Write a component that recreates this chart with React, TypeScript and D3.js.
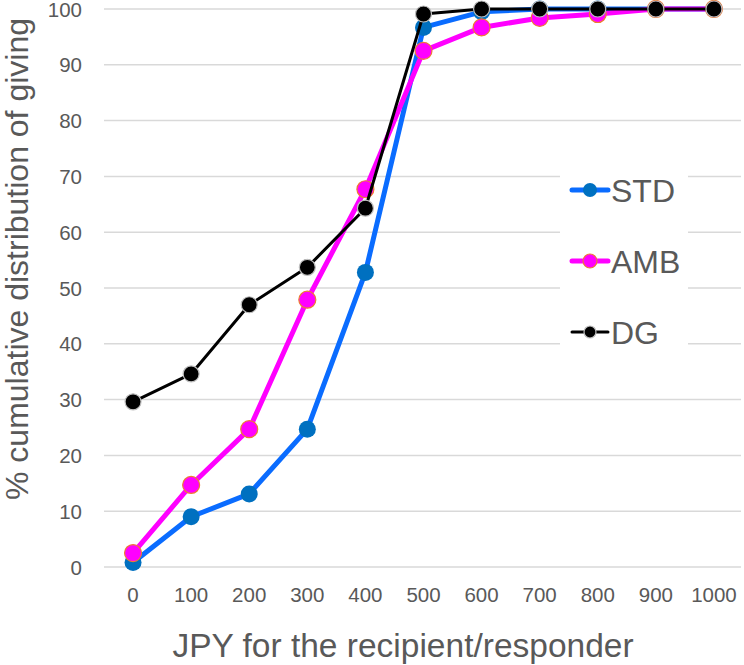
import * as d3 from 'd3'
import React, { useEffect, useRef } from 'react'

const categories = ['0', '100', '200', '300', '400', '500', '600', '700', '800', '900', '1000']
const stdValues = [0.8, 9, 13.1, 24.7, 52.8, 96.7, 99.5, 100, 100, 100, 100]
const ambValues = [2.5, 14.7, 24.7, 47.9, 67.7, 92.5, 96.7, 98.4, 99.1, 100, 100]
const dgValues = [29.6, 34.6, 47, 53.7, 64.3, 99.1, 100, 100, 100, 100, 100]
const yTicks = [0, 10, 20, 30, 40, 50, 60, 70, 80, 90, 100]
const seriesNames = ['STD', 'AMB', 'DG']

const W = 744
const H = 665
const FONT = '"Liberation Sans", Arial, sans-serif'

const styles: any = {
  STD: { line: '#0A6CFF', lw: 5, fill: '#0070C0', stroke: 'none', r: 8.5, lr: 7 },
  AMB: { line: '#FF00FF', lw: 5, fill: '#FF00FF', stroke: '#ED7D31', r: 8.5, lr: 7 },
  DG: { line: '#000000', lw: 3, fill: '#000000', stroke: '#BFBFBF', r: 8, lr: 6 },
}

const App = () => {
  const ref = useRef(null)

  useEffect(() => {
    const svg = d3.select(ref.current)
    svg.selectAll('*').remove()

    const x = d3.scaleBand().domain(categories).range([104, 743])
    const y = d3.scaleLinear().domain([0, 100]).range([567, 9])
    const cx = (c: string) => (x(c) as number) + x.bandwidth() / 2

    // gridlines
    svg
      .append('g')
      .selectAll('line')
      .data(yTicks)
      .enter()
      .append('line')
      .attr('x1', 104)
      .attr('x2', 741)
      .attr('y1', (d) => y(d))
      .attr('y2', (d) => y(d))
      .attr('stroke', '#D9D9D9')
      .attr('stroke-width', 1.5)

    // y tick labels
    svg
      .append('g')
      .selectAll('text')
      .data(yTicks)
      .enter()
      .append('text')
      .attr('x', 82)
      .attr('y', (d) => y(d) + 7.5)
      .attr('text-anchor', 'end')
      .attr('font-family', FONT)
      .attr('font-size', 20.5)
      .attr('fill', '#595959')
      .text((d) => d)

    // x tick labels
    svg
      .append('g')
      .selectAll('text')
      .data(categories)
      .enter()
      .append('text')
      .attr('x', (d) => cx(d))
      .attr('y', 602)
      .attr('text-anchor', 'middle')
      .attr('font-family', FONT)
      .attr('font-size', 20.5)
      .attr('fill', '#595959')
      .text((d) => d)

    // axis titles
    svg
      .append('text')
      .attr('x', 403)
      .attr('y', 657)
      .attr('text-anchor', 'middle')
      .attr('font-family', FONT)
      .attr('font-size', 33.5)
      .attr('fill', '#595959')
      .text('JPY for the recipient/responder')

    svg
      .append('text')
      .attr('transform', 'translate(28, 259) rotate(-90)')
      .attr('text-anchor', 'middle')
      .attr('font-family', FONT)
      .attr('font-size', 32)
      .attr('fill', '#595959')
      .text('% cumulative distribution of giving')

    const allValues = [stdValues, ambValues, dgValues]
    const line = d3
      .line<number>()
      .x((d, i) => cx(categories[i]))
      .y((d) => y(d))

    allValues.forEach((vals, k) => {
      const s = styles[seriesNames[k]]
      const g = svg.append('g')
      g.append('path')
        .attr('d', line(vals))
        .attr('fill', 'none')
        .attr('stroke', s.line)
        .attr('stroke-width', s.lw)
        .attr('stroke-linejoin', 'round')
      g.selectAll('circle')
        .data(vals)
        .enter()
        .append('circle')
        .attr('cx', (d, i) => cx(categories[i]))
        .attr('cy', (d) => y(d))
        .attr('r', s.r)
        .attr('fill', s.fill)
        .attr('stroke', s.stroke)
        .attr('stroke-width', 1.2)
    })

    // legend
    const legend = svg.append('g')
    legend
      .append('rect')
      .attr('x', 560)
      .attr('y', 160)
      .attr('width', 128)
      .attr('height', 195)
      .attr('fill', '#ffffff')
    const legendY = [190, 261, 332]
    seriesNames.forEach((name, k) => {
      const s = styles[name]
      const ly = legendY[k]
      legend
        .append('line')
        .attr('x1', 572)
        .attr('x2', 608)
        .attr('y1', ly)
        .attr('y2', ly)
        .attr('stroke', s.line)
        .attr('stroke-width', s.lw)
        .attr('stroke-linecap', 'round')
      legend
        .append('circle')
        .attr('cx', 590)
        .attr('cy', ly)
        .attr('r', s.lr)
        .attr('fill', s.fill)
        .attr('stroke', s.stroke)
        .attr('stroke-width', 1.2)
      legend
        .append('text')
        .attr('x', 611)
        .attr('y', ly + 11.5)
        .attr('font-family', FONT)
        .attr('font-size', 32)
        .attr('fill', '#595959')
        .text(name)
    })
  }, [])

  return (
    <svg
      ref={ref}
      width={W}
      height={H}
      style={{ position: 'absolute', left: 0, top: 0, background: '#ffffff' }}
    ></svg>
  )
}

export default App
